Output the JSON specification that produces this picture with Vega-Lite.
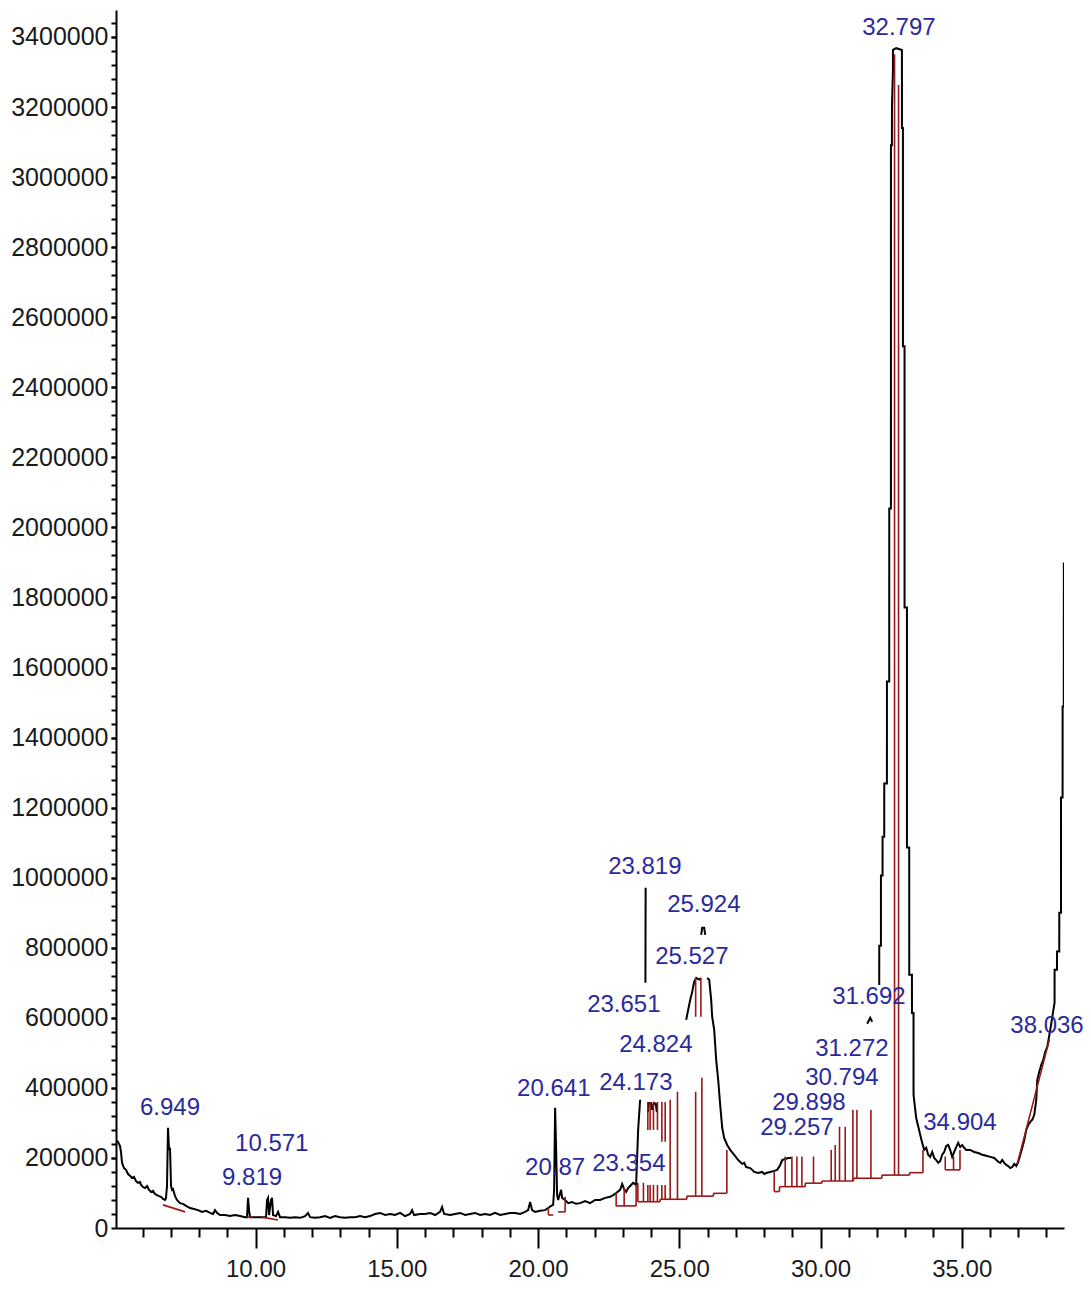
{
"$schema": "https://vega.github.io/schema/vega-lite/v6.json",
"width": 948, "height": 1218,
"autosize": {"type": "none"},
"padding": {"left": 116, "top": 10, "right": 27, "bottom": 61},
"background": "white",
"config": {"view": {"stroke": null}, "axis": {"grid": false, "title": null}},
"datasets": {
"trace": [
{"seg":1,"t":5.060,"v":251000},{"seg":1,"t":5.131,"v":246000},{"seg":1,"t":5.202,"v":234000},{"seg":1,"t":5.237,"v":217000},{"seg":1,"t":5.273,"v":186000},{"seg":1,"t":5.343,"v":171000},{"seg":1,"t":5.414,"v":166000},{"seg":1,"t":5.485,"v":154000},{"seg":1,"t":5.556,"v":149000},{"seg":1,"t":5.627,"v":143000},{"seg":1,"t":5.698,"v":146000},{"seg":1,"t":5.768,"v":134000},{"seg":1,"t":5.839,"v":129000},{"seg":1,"t":5.910,"v":131000},{"seg":1,"t":5.946,"v":123000},{"seg":1,"t":6.016,"v":117000},{"seg":1,"t":6.087,"v":114000},{"seg":1,"t":6.158,"v":120000},{"seg":1,"t":6.229,"v":109000},{"seg":1,"t":6.300,"v":103000},{"seg":1,"t":6.370,"v":106000},{"seg":1,"t":6.441,"v":97000},{"seg":1,"t":6.512,"v":94000},{"seg":1,"t":6.583,"v":91000},{"seg":1,"t":6.654,"v":89000},{"seg":1,"t":6.724,"v":83000},{"seg":1,"t":6.795,"v":80000},{"seg":1,"t":6.830,"v":86000},{"seg":1,"t":6.866,"v":120000},{"seg":1,"t":6.901,"v":286000},{"seg":1,"t":6.937,"v":223000},{"seg":1,"t":6.972,"v":229000},{"seg":1,"t":7.008,"v":120000},{"seg":1,"t":7.043,"v":109000},{"seg":1,"t":7.079,"v":111000},{"seg":1,"t":7.150,"v":91000},{"seg":1,"t":7.220,"v":80000},{"seg":1,"t":7.326,"v":71000},{"seg":1,"t":7.433,"v":69000},{"seg":1,"t":7.539,"v":63000},{"seg":1,"t":7.681,"v":57000},{"seg":1,"t":7.822,"v":54000},{"seg":1,"t":7.964,"v":51000},{"seg":1,"t":8.105,"v":46000},{"seg":1,"t":8.247,"v":49000},{"seg":1,"t":8.389,"v":43000},{"seg":1,"t":8.495,"v":40000},{"seg":1,"t":8.566,"v":51000},{"seg":1,"t":8.637,"v":43000},{"seg":1,"t":8.743,"v":37000},{"seg":1,"t":8.920,"v":37000},{"seg":1,"t":9.097,"v":34000},{"seg":1,"t":9.274,"v":37000},{"seg":1,"t":9.451,"v":34000},{"seg":1,"t":9.628,"v":31000},{"seg":1,"t":9.699,"v":31000},{"seg":1,"t":9.734,"v":86000},{"seg":1,"t":9.770,"v":51000},{"seg":1,"t":9.805,"v":31000},{"seg":1,"t":9.982,"v":31000},{"seg":1,"t":10.159,"v":31000},{"seg":1,"t":10.372,"v":31000},{"seg":1,"t":10.407,"v":80000},{"seg":1,"t":10.443,"v":86000},{"seg":1,"t":10.478,"v":37000},{"seg":1,"t":10.549,"v":80000},{"seg":1,"t":10.584,"v":86000},{"seg":1,"t":10.620,"v":37000},{"seg":1,"t":10.726,"v":34000},{"seg":1,"t":10.797,"v":46000},{"seg":1,"t":10.868,"v":31000},{"seg":1,"t":11.045,"v":31000},{"seg":1,"t":11.222,"v":29000},{"seg":1,"t":11.399,"v":31000},{"seg":1,"t":11.576,"v":29000},{"seg":1,"t":11.753,"v":34000},{"seg":1,"t":11.859,"v":43000},{"seg":1,"t":11.930,"v":31000},{"seg":1,"t":12.107,"v":29000},{"seg":1,"t":12.284,"v":31000},{"seg":1,"t":12.461,"v":34000},{"seg":1,"t":12.638,"v":29000},{"seg":1,"t":12.815,"v":34000},{"seg":1,"t":12.992,"v":31000},{"seg":1,"t":13.169,"v":29000},{"seg":1,"t":13.346,"v":31000},{"seg":1,"t":13.523,"v":31000},{"seg":1,"t":13.700,"v":34000},{"seg":1,"t":13.877,"v":31000},{"seg":1,"t":14.054,"v":34000},{"seg":1,"t":14.231,"v":40000},{"seg":1,"t":14.408,"v":43000},{"seg":1,"t":14.585,"v":37000},{"seg":1,"t":14.763,"v":40000},{"seg":1,"t":14.940,"v":37000},{"seg":1,"t":15.117,"v":43000},{"seg":1,"t":15.294,"v":34000},{"seg":1,"t":15.471,"v":40000},{"seg":1,"t":15.542,"v":51000},{"seg":1,"t":15.612,"v":37000},{"seg":1,"t":15.825,"v":40000},{"seg":1,"t":16.002,"v":40000},{"seg":1,"t":16.179,"v":43000},{"seg":1,"t":16.356,"v":37000},{"seg":1,"t":16.533,"v":46000},{"seg":1,"t":16.604,"v":60000},{"seg":1,"t":16.675,"v":40000},{"seg":1,"t":16.887,"v":37000},{"seg":1,"t":17.064,"v":40000},{"seg":1,"t":17.241,"v":43000},{"seg":1,"t":17.418,"v":37000},{"seg":1,"t":17.595,"v":40000},{"seg":1,"t":17.772,"v":43000},{"seg":1,"t":17.950,"v":37000},{"seg":1,"t":18.127,"v":40000},{"seg":1,"t":18.304,"v":37000},{"seg":1,"t":18.481,"v":43000},{"seg":1,"t":18.658,"v":37000},{"seg":1,"t":18.835,"v":40000},{"seg":1,"t":19.012,"v":43000},{"seg":1,"t":19.189,"v":43000},{"seg":1,"t":19.366,"v":40000},{"seg":1,"t":19.543,"v":46000},{"seg":1,"t":19.649,"v":51000},{"seg":1,"t":19.720,"v":74000},{"seg":1,"t":19.791,"v":51000},{"seg":1,"t":19.897,"v":46000},{"seg":1,"t":20.074,"v":49000},{"seg":1,"t":20.251,"v":51000},{"seg":1,"t":20.357,"v":57000},{"seg":1,"t":20.464,"v":63000},{"seg":1,"t":20.535,"v":66000},{"seg":1,"t":20.570,"v":109000},{"seg":1,"t":20.605,"v":343000},{"seg":1,"t":20.641,"v":223000},{"seg":1,"t":20.676,"v":94000},{"seg":1,"t":20.712,"v":80000},{"seg":1,"t":20.818,"v":109000},{"seg":1,"t":20.853,"v":86000},{"seg":1,"t":20.960,"v":80000},{"seg":1,"t":21.066,"v":71000},{"seg":1,"t":21.208,"v":74000},{"seg":1,"t":21.349,"v":69000},{"seg":1,"t":21.491,"v":71000},{"seg":1,"t":21.668,"v":77000},{"seg":1,"t":21.845,"v":71000},{"seg":1,"t":22.022,"v":80000},{"seg":1,"t":22.199,"v":80000},{"seg":1,"t":22.376,"v":86000},{"seg":1,"t":22.553,"v":89000},{"seg":1,"t":22.659,"v":94000},{"seg":1,"t":22.765,"v":100000},{"seg":1,"t":22.907,"v":109000},{"seg":1,"t":22.978,"v":126000},{"seg":1,"t":23.048,"v":111000},{"seg":1,"t":23.119,"v":103000},{"seg":1,"t":23.190,"v":114000},{"seg":1,"t":23.261,"v":120000},{"seg":1,"t":23.367,"v":129000},{"seg":1,"t":23.473,"v":123000},{"seg":1,"t":23.544,"v":280000},{"seg":1,"t":23.615,"v":366000},
{"seg":2,"t":23.802,"v":700000},{"seg":2,"t":23.806,"v":840000},{"seg":2,"t":23.810,"v":971000},
{"seg":3,"t":23.888,"v":331000},{"seg":3,"t":23.923,"v":357000},{"seg":3,"t":23.994,"v":357000},{"seg":3,"t":24.029,"v":337000},{"seg":3,"t":24.100,"v":357000},{"seg":3,"t":24.171,"v":354000},{"seg":3,"t":24.206,"v":331000},
{"seg":4,"t":25.776,"v":837000},{"seg":4,"t":25.811,"v":857000},{"seg":4,"t":25.882,"v":857000},{"seg":4,"t":25.918,"v":837000},
{"seg":5,"t":25.245,"v":594000},{"seg":5,"t":25.316,"v":623000},{"seg":5,"t":25.386,"v":651000},{"seg":5,"t":25.457,"v":674000},{"seg":5,"t":25.528,"v":703000},{"seg":5,"t":25.599,"v":714000},{"seg":5,"t":25.705,"v":709000},{"seg":5,"t":25.776,"v":714000},
{"seg":6,"t":25.988,"v":714000},{"seg":6,"t":26.059,"v":709000},{"seg":6,"t":26.130,"v":651000},{"seg":6,"t":26.165,"v":603000},{"seg":6,"t":26.236,"v":566000},{"seg":6,"t":26.307,"v":480000},{"seg":6,"t":26.378,"v":423000},{"seg":6,"t":26.449,"v":351000},{"seg":6,"t":26.520,"v":286000},{"seg":6,"t":26.590,"v":257000},{"seg":6,"t":26.697,"v":237000},{"seg":6,"t":26.803,"v":223000},{"seg":6,"t":26.945,"v":209000},{"seg":6,"t":27.086,"v":194000},{"seg":6,"t":27.228,"v":183000},{"seg":6,"t":27.300,"v":186000},{"seg":6,"t":27.369,"v":174000},{"seg":6,"t":27.511,"v":171000},{"seg":6,"t":27.582,"v":166000},{"seg":6,"t":27.653,"v":160000},{"seg":6,"t":27.794,"v":157000},{"seg":6,"t":27.936,"v":160000},{"seg":6,"t":28.007,"v":154000},{"seg":6,"t":28.078,"v":157000},{"seg":6,"t":28.219,"v":160000},{"seg":6,"t":28.361,"v":163000},{"seg":6,"t":28.467,"v":166000},{"seg":6,"t":28.574,"v":180000},{"seg":6,"t":28.644,"v":194000},{"seg":6,"t":28.750,"v":197000},{"seg":6,"t":28.857,"v":200000},{"seg":6,"t":28.963,"v":200000},
{"seg":7,"t":31.654,"v":583000},{"seg":7,"t":31.760,"v":600000},{"seg":7,"t":31.830,"v":589000},
{"seg":8,"t":32.079,"v":694000},{"seg":8,"t":32.080,"v":806000},{"seg":8,"t":32.139,"v":806000},{"seg":8,"t":32.140,"v":1006000},{"seg":8,"t":32.196,"v":1006000},{"seg":8,"t":32.197,"v":1117000},{"seg":8,"t":32.256,"v":1117000},{"seg":8,"t":32.257,"v":1269000},{"seg":8,"t":32.351,"v":1269000},{"seg":8,"t":32.352,"v":1560000},{"seg":8,"t":32.433,"v":1560000},{"seg":8,"t":32.434,"v":2054000},{"seg":8,"t":32.493,"v":2054000},{"seg":8,"t":32.494,"v":3091000},{"seg":8,"t":32.528,"v":3091000},{"seg":8,"t":32.529,"v":3200000},{"seg":8,"t":32.564,"v":3303000},{"seg":8,"t":32.565,"v":3363000},{"seg":8,"t":32.681,"v":3368000},{"seg":8,"t":32.882,"v":3363000},{"seg":8,"t":32.883,"v":3140000},{"seg":8,"t":32.918,"v":3140000},{"seg":8,"t":32.919,"v":2517000},{"seg":8,"t":32.975,"v":2517000},{"seg":8,"t":32.976,"v":1771000},{"seg":8,"t":33.060,"v":1771000},{"seg":8,"t":33.061,"v":1086000},{"seg":8,"t":33.141,"v":1086000},{"seg":8,"t":33.142,"v":723000},{"seg":8,"t":33.237,"v":723000},{"seg":8,"t":33.238,"v":614000},{"seg":8,"t":33.293,"v":614000},{"seg":8,"t":33.294,"v":380000},{"seg":8,"t":33.388,"v":314000},{"seg":8,"t":33.600,"v":243000},{"seg":8,"t":33.671,"v":223000},{"seg":8,"t":33.742,"v":229000},{"seg":8,"t":33.812,"v":209000},{"seg":8,"t":33.883,"v":203000},{"seg":8,"t":33.954,"v":217000},{"seg":8,"t":34.025,"v":200000},{"seg":8,"t":34.096,"v":194000},{"seg":8,"t":34.167,"v":186000},{"seg":8,"t":34.237,"v":191000},{"seg":8,"t":34.308,"v":209000},{"seg":8,"t":34.379,"v":217000},{"seg":8,"t":34.450,"v":234000},{"seg":8,"t":34.521,"v":237000},{"seg":8,"t":34.591,"v":223000},{"seg":8,"t":34.662,"v":203000},{"seg":8,"t":34.733,"v":217000},{"seg":8,"t":34.804,"v":231000},{"seg":8,"t":34.875,"v":243000},{"seg":8,"t":34.946,"v":231000},{"seg":8,"t":35.017,"v":237000},{"seg":8,"t":35.088,"v":229000},{"seg":8,"t":35.158,"v":223000},{"seg":8,"t":35.300,"v":223000},{"seg":8,"t":35.442,"v":217000},{"seg":8,"t":35.584,"v":214000},{"seg":8,"t":35.725,"v":209000},{"seg":8,"t":35.867,"v":206000},{"seg":8,"t":36.009,"v":203000},{"seg":8,"t":36.151,"v":200000},{"seg":8,"t":36.292,"v":189000},{"seg":8,"t":36.363,"v":186000},{"seg":8,"t":36.434,"v":194000},{"seg":8,"t":36.505,"v":186000},{"seg":8,"t":36.576,"v":180000},{"seg":8,"t":36.647,"v":177000},{"seg":8,"t":36.717,"v":171000},{"seg":8,"t":36.788,"v":174000},{"seg":8,"t":36.859,"v":183000},{"seg":8,"t":36.930,"v":177000},{"seg":8,"t":37.001,"v":189000},{"seg":8,"t":37.072,"v":209000},{"seg":8,"t":37.143,"v":229000},{"seg":8,"t":37.213,"v":251000},{"seg":8,"t":37.284,"v":280000},{"seg":8,"t":37.355,"v":294000},{"seg":8,"t":37.426,"v":303000},{"seg":8,"t":37.497,"v":309000},{"seg":8,"t":37.568,"v":323000},{"seg":8,"t":37.638,"v":366000},{"seg":8,"t":37.674,"v":423000},{"seg":8,"t":37.745,"v":446000},{"seg":8,"t":37.815,"v":466000},{"seg":8,"t":37.886,"v":480000},{"seg":8,"t":37.957,"v":503000},{"seg":8,"t":38.028,"v":517000},{"seg":8,"t":38.134,"v":566000},{"seg":8,"t":38.286,"v":643000},{"seg":8,"t":38.287,"v":737000},{"seg":8,"t":38.371,"v":737000},{"seg":8,"t":38.372,"v":789000},{"seg":8,"t":38.452,"v":789000},{"seg":8,"t":38.453,"v":900000},{"seg":8,"t":38.513,"v":900000},{"seg":8,"t":38.514,"v":1229000},{"seg":8,"t":38.570,"v":1229000},{"seg":8,"t":38.571,"v":1489000},{"seg":8,"t":38.612,"v":1489000},{"seg":8,"t":38.615,"v":1900000}
],
"red": [
{"t":6.724,"v":66000,"t2":7.504,"v2":46000},
{"t":9.699,"v":31000,"t2":9.911,"v2":31000},
{"t":10.230,"v":31000,"t2":10.797,"v2":23000},
{"t":20.368,"v":37000,"t2":20.368,"v2":60000},
{"t":20.368,"v":37000,"t2":20.535,"v2":37000},
{"t":20.712,"v":46000,"t2":20.960,"v2":46000},
{"t":20.960,"v":46000,"t2":20.960,"v2":89000},
{"t":22.766,"v":63000,"t2":23.473,"v2":63000},
{"t":22.766,"v":63000,"t2":22.766,"v2":100000},
{"t":23.049,"v":63000,"t2":23.049,"v2":114000},
{"t":23.473,"v":63000,"t2":23.473,"v2":123000},
{"t":23.534,"v":75000,"t2":24.324,"v2":75000},
{"t":24.324,"v":75000,"t2":24.324,"v2":82000},
{"t":24.324,"v":82000,"t2":25.269,"v2":82000},
{"t":25.269,"v":82000,"t2":25.269,"v2":91000},
{"t":25.269,"v":91000,"t2":26.212,"v2":91000},
{"t":26.212,"v":91000,"t2":26.212,"v2":99000},
{"t":26.212,"v":99000,"t2":26.685,"v2":99000},
{"t":23.534,"v":75000,"t2":23.534,"v2":129000},
{"t":23.732,"v":75000,"t2":23.732,"v2":129000},
{"t":23.888,"v":75000,"t2":23.888,"v2":123000},
{"t":23.888,"v":280000,"t2":23.888,"v2":360000},
{"t":23.969,"v":75000,"t2":23.969,"v2":123000},
{"t":23.969,"v":280000,"t2":23.969,"v2":360000},
{"t":24.086,"v":75000,"t2":24.086,"v2":123000},
{"t":24.086,"v":280000,"t2":24.086,"v2":360000},
{"t":24.228,"v":75000,"t2":24.228,"v2":123000},
{"t":24.228,"v":280000,"t2":24.228,"v2":360000},
{"t":24.384,"v":82000,"t2":24.384,"v2":123000},
{"t":24.384,"v":246000,"t2":24.384,"v2":360000},
{"t":24.501,"v":82000,"t2":24.501,"v2":123000},
{"t":24.501,"v":246000,"t2":24.501,"v2":360000},
{"t":24.678,"v":82000,"t2":24.678,"v2":366000},
{"t":24.936,"v":82000,"t2":24.936,"v2":389000},
{"t":25.580,"v":91000,"t2":25.580,"v2":389000},
{"t":25.580,"v":603000,"t2":25.580,"v2":714000},
{"t":25.800,"v":91000,"t2":25.800,"v2":429000},
{"t":25.765,"v":603000,"t2":25.765,"v2":714000},
{"t":26.685,"v":99000,"t2":26.685,"v2":223000},
{"t":28.361,"v":104000,"t2":28.361,"v2":161000},
{"t":28.361,"v":104000,"t2":28.549,"v2":104000},
{"t":28.549,"v":104000,"t2":28.549,"v2":118000},
{"t":28.549,"v":118000,"t2":29.459,"v2":118000},
{"t":29.459,"v":118000,"t2":29.459,"v2":128000},
{"t":29.459,"v":128000,"t2":30.050,"v2":128000},
{"t":30.050,"v":128000,"t2":30.050,"v2":134000},
{"t":30.050,"v":134000,"t2":31.169,"v2":134000},
{"t":31.169,"v":134000,"t2":31.169,"v2":142000},
{"t":31.169,"v":142000,"t2":32.174,"v2":142000},
{"t":32.174,"v":142000,"t2":32.174,"v2":151000},
{"t":32.174,"v":151000,"t2":33.152,"v2":151000},
{"t":33.152,"v":151000,"t2":33.152,"v2":158000},
{"t":33.152,"v":158000,"t2":33.627,"v2":158000},
{"t":33.627,"v":158000,"t2":33.627,"v2":223000},
{"t":28.750,"v":118000,"t2":28.750,"v2":204000},
{"t":28.987,"v":118000,"t2":28.987,"v2":204000},
{"t":29.164,"v":118000,"t2":29.164,"v2":204000},
{"t":29.341,"v":118000,"t2":29.341,"v2":204000},
{"t":29.752,"v":128000,"t2":29.752,"v2":204000},
{"t":30.379,"v":134000,"t2":30.379,"v2":223000},
{"t":30.521,"v":134000,"t2":30.521,"v2":237000},
{"t":30.673,"v":134000,"t2":30.673,"v2":289000},
{"t":30.875,"v":134000,"t2":30.875,"v2":289000},
{"t":31.147,"v":134000,"t2":31.147,"v2":337000},
{"t":31.289,"v":142000,"t2":31.289,"v2":337000},
{"t":31.785,"v":142000,"t2":31.785,"v2":337000},
{"t":32.621,"v":151000,"t2":32.621,"v2":3351000},
{"t":32.763,"v":151000,"t2":32.763,"v2":3263000},
{"t":34.416,"v":166000,"t2":34.938,"v2":166000},
{"t":34.416,"v":166000,"t2":34.416,"v2":204000},
{"t":34.710,"v":166000,"t2":34.710,"v2":204000},
{"t":34.938,"v":166000,"t2":34.938,"v2":223000},
{"t":36.966,"v":183000,"t2":38.099,"v2":537000}
],
"labels": [
{"t":5.910,"v":343000,"label":"6.949"},
{"t":9.274,"v":240000,"label":"10.571"},
{"t":8.814,"v":143000,"label":"9.819"},
{"t":19.260,"v":397000,"label":"20.641"},
{"t":19.543,"v":171000,"label":"20.87"},
{"t":21.916,"v":183000,"label":"23.354"},
{"t":22.482,"v":1031000,"label":"23.819"},
{"t":24.571,"v":923000,"label":"25.924"},
{"t":24.146,"v":774000,"label":"25.527"},
{"t":21.739,"v":637000,"label":"23.651"},
{"t":22.872,"v":523000,"label":"24.824"},
{"t":22.164,"v":414000,"label":"24.173"},
{"t":27.865,"v":286000,"label":"29.257"},
{"t":28.290,"v":357000,"label":"29.898"},
{"t":29.459,"v":429000,"label":"30.794"},
{"t":29.813,"v":511000,"label":"31.272"},
{"t":30.415,"v":660000,"label":"31.692"},
{"t":31.478,"v":3426000,"label":"32.797"},
{"t":33.638,"v":300000,"label":"34.904"},
{"t":36.719,"v":577000,"label":"38.036"}
]
},
"layer": [
{
"data": {"name": "trace"},
"mark": {"type": "line", "color": "#000000", "strokeWidth": 2, "clip": true},
"encoding": {
"x": {"field": "t", "type": "quantitative", "scale": {"domain": [5.06, 38.62], "nice": false, "zero": false},
"axis": {"orient": "bottom", "values": [10, 15, 20, 25, 30, 35], "format": ".2f", "tickSize": 20, "tickWidth": 2, "tickColor": "#000000", "domainColor": "#000000", "domainWidth": 2, "labelFontSize": 24, "labelFont": "Liberation Sans", "labelColor": "#1a1a1a", "labelPadding": 9, "title": null, "grid": false, "labelFlush": false}},
"y": {"field": "v", "type": "quantitative", "scale": {"domain": [0, 3477000], "nice": false, "zero": true},
"axis": {"orient": "left", "values": [0, 200000, 400000, 600000, 800000, 1000000, 1200000, 1400000, 1600000, 1800000, 2000000, 2200000, 2400000, 2600000, 2800000, 3000000, 3200000, 3400000], "format": "d", "tickSize": 5, "tickWidth": 2, "tickColor": "#000000", "domainColor": "#000000", "domainWidth": 2, "labelFontSize": 25, "labelFont": "Liberation Sans", "labelColor": "#1a1a1a", "labelPadding": 3, "title": null, "grid": false, "labelFlush": false}},
"detail": {"field": "seg", "type": "nominal"}
}
},
{
"data": {"name": "red"},
"mark": {"type": "rule", "color": "#981818", "strokeWidth": 1.6},
"encoding": {
"x": {"field": "t", "type": "quantitative",
"axis": {"orient": "bottom", "values": [6, 7, 8, 9, 11, 12, 13, 14, 16, 17, 18, 19, 21, 22, 23, 24, 26, 27, 28, 29, 31, 32, 33, 34, 36, 37, 38], "labels": false, "domain": false, "tickSize": 9, "tickWidth": 2, "tickColor": "#000000", "title": null, "grid": false}},
"y": {"field": "v", "type": "quantitative",
"axis": {"orient": "left", "values": [40000,80000,120000,160000,200000,240000,280000,320000,360000,400000,440000,480000,520000,560000,600000,640000,680000,720000,760000,800000,840000,880000,920000,960000,1000000,1040000,1080000,1120000,1160000,1200000,1240000,1280000,1320000,1360000,1400000,1440000,1480000,1520000,1560000,1600000,1640000,1680000,1720000,1760000,1800000,1840000,1880000,1920000,1960000,2000000,2040000,2080000,2120000,2160000,2200000,2240000,2280000,2320000,2360000,2400000,2440000,2480000,2520000,2560000,2600000,2640000,2680000,2720000,2760000,2800000,2840000,2880000,2920000,2960000,3000000,3040000,3080000,3120000,3160000,3200000,3240000,3280000,3320000,3360000,3400000,3440000], "labels": false, "domain": false, "tickSize": 5, "tickWidth": 2, "tickColor": "#000000", "title": null, "grid": false}},
"x2": {"field": "t2"},
"y2": {"field": "v2"}
}
},
{
"data": {"name": "labels"},
"mark": {"type": "text", "align": "left", "baseline": "middle", "font": "Liberation Sans", "fontSize": 24, "color": "#2a2a9e"},
"encoding": {
"x": {"field": "t", "type": "quantitative", "axis": null},
"y": {"field": "v", "type": "quantitative", "axis": null},
"text": {"field": "label", "type": "nominal"}
}
}
],
"resolve": {"axis": {"x": "independent", "y": "independent"}}
}
